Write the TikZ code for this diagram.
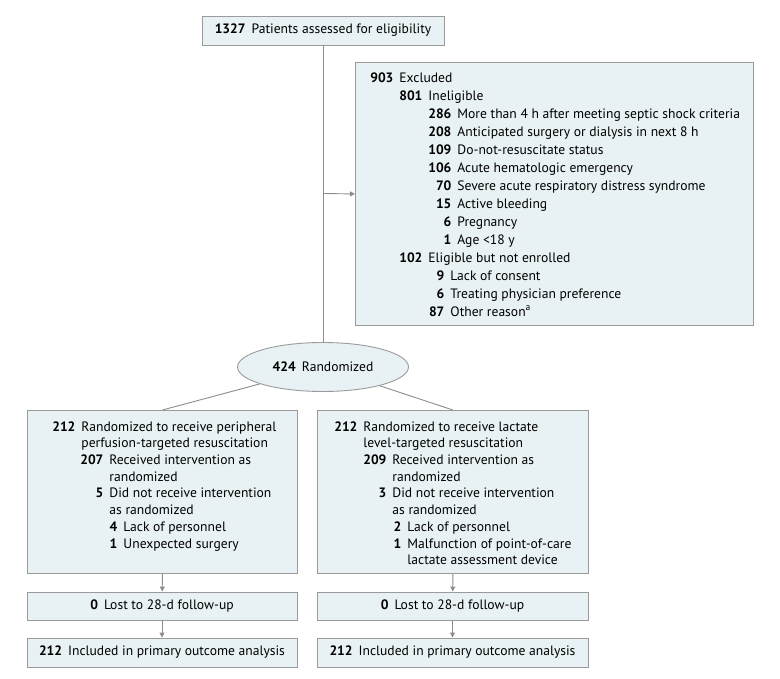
\documentclass[tikz,border=0pt]{standalone}
\usepackage{fontspec}
\setmainfont{PT Sans}
\usetikzlibrary{arrows.meta,shapes.geometric}

\definecolor{panelfill}{HTML}{E8F1F3}
\definecolor{panelline}{HTML}{9B9B9B}
\definecolor{flowline}{HTML}{8C8C8C}

\newcommand{\cnt}[1]{\textbf{#1}\hspace{6pt}}
\newcommand{\nline}[3]{\hspace*{#1pt}\llap{\textbf{#2}\hspace{6pt}}#3\par}

\begin{document}
\begin{tikzpicture}[x=1pt, y=-1pt, >=Triangle]
\tikzset{
  box/.style={
    draw=panelline,
    fill=panelfill,
    line width=0.9pt,
    inner sep=0pt,
    font=\fontsize{13.6}{16.7}\selectfont,
  },
  panel/.style={box, anchor=north west},
  link/.style={draw=flowline, line width=0.9pt},
  flow/.style={link, -{Triangle[length=5pt,width=5pt]}}
}
\useasboundingbox (0,0) rectangle (780,679);

\node[box, minimum width=242pt, minimum height=29pt] (elig) at (323,30.5) {\cnt{1327}Patients assessed for eligibility};

\node[panel, font=\fontsize{13.6}{18}\selectfont] (excl) at (355,62) {\parbox[c][263pt][t]{398pt}{\vspace*{10pt}
\nline{44}{903}{Excluded}
\nline{73}{801}{Ineligible}
\nline{102}{286}{More than 4 h after meeting septic shock criteria}
\nline{102}{208}{Anticipated surgery or dialysis in next 8 h}
\nline{102}{109}{Do-not-resuscitate status}
\nline{102}{106}{Acute hematologic emergency}
\nline{102}{70}{Severe acute respiratory distress syndrome}
\nline{102}{15}{Active bleeding}
\nline{102}{6}{Pregnancy}
\nline{102}{1}{Age <18 y}
\nline{73}{102}{Eligible but not enrolled}
\nline{95}{9}{Lack of consent}
\nline{95}{6}{Treating physician preference}
\nline{95}{87}{Other reason\textsuperscript{a}}}};

\node[box, ellipse, minimum width=171pt, minimum height=49pt] (rand) at (323,367) {\cnt{424}Randomized};

\node[panel] (lgrp) at (27,410) {\parbox[c][163pt][t]{270pt}{\vspace*{11pt}
\nline{54}{212}{Randomized to receive peripheral}
\nline{54}{}{perfusion-targeted resuscitation}
\nline{82}{207}{Received intervention as}
\nline{82}{}{randomized}
\nline{82}{5}{Did not receive intervention}
\nline{82}{}{as randomized}
\nline{96}{4}{Lack of personnel}
\nline{96}{1}{Unexpected surgery}}};

\node[panel] (rgrp) at (317,410) {\parbox[c][163pt][t]{271pt}{\vspace*{11pt}
\nline{46}{212}{Randomized to receive lactate}
\nline{46}{}{level-targeted resuscitation}
\nline{75}{209}{Received intervention as}
\nline{75}{}{randomized}
\nline{75}{3}{Did not receive intervention}
\nline{75}{}{as randomized}
\nline{90}{2}{Lack of personnel}
\nline{90}{1}{Malfunction of point-of-care}
\nline{90}{}{lactate assessment device}}};

\node[box, minimum width=270pt, minimum height=28pt] (llost) at (162,606) {\cnt{0}Lost to 28-d follow-up};
\node[box, minimum width=271pt, minimum height=28pt] (rlost) at (452.5,606) {\cnt{0}Lost to 28-d follow-up};
\node[box, minimum width=270pt, minimum height=29pt] (lincl) at (162,652.5) {\cnt{212}Included in primary outcome analysis};
\node[box, minimum width=271pt, minimum height=29pt] (rincl) at (452.5,652.5) {\cnt{212}Included in primary outcome analysis};

\coordinate (split) at (323,193.5);
\draw[link] (elig) -- (rand);
\draw[flow] (split) -- (excl.west);
\draw[link] (rand) -- (lgrp.north);
\draw[link] (rand) -- (rgrp.north);
\draw[flow] (lgrp.south) -- (llost);
\draw[flow] (rgrp.south) -- (rlost);
\draw[flow] (llost) -- (lincl);
\draw[flow] (rlost) -- (rincl);
\end{tikzpicture}
\end{document}
